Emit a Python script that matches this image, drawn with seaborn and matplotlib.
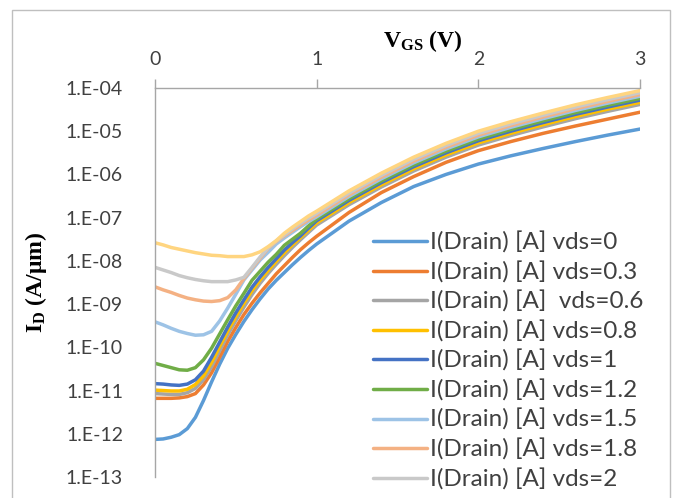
import numpy as np
import pandas as pd
import seaborn as sns
import matplotlib
matplotlib.use("Agg")
import matplotlib.pyplot as plt
from matplotlib import font_manager
from matplotlib.ticker import FixedLocator, FuncFormatter
from matplotlib.patches import Rectangle

# ---------------- data (log10 of drain current in A/um) -------------
vgs = [0.0, 0.05, 0.1, 0.15, 0.2, 0.25, 0.3, 0.35, 0.4, 0.45, 0.5,
       0.55, 0.6, 0.65, 0.7, 0.75, 0.8, 0.85, 0.9, 0.95, 1.0,
       1.2, 1.4, 1.6, 1.8, 2.0, 2.2, 2.4, 2.6, 2.8, 3.0]

series_labels = [
    "I(Drain) [A] vds=0",
    "I(Drain) [A] vds=0.3",
    "I(Drain) [A]  vds=0.6",
    "I(Drain) [A] vds=0.8",
    "I(Drain) [A] vds=1",
    "I(Drain) [A] vds=1.2",
    "I(Drain) [A] vds=1.5",
    "I(Drain) [A] vds=1.8",
    "I(Drain) [A] vds=2",
    "I(Drain) [A] vds=2.2",
]
n_legend_visible = 9  # the reference crops the legend after the 9th entry

log_id_vds_0_0 = [-12.13, -12.12, -12.08, -12.02, -11.88, -11.62, -11.23, -10.80, -10.39, -10.02, -9.70,
                  -9.40, -9.13, -8.88, -8.65, -8.45, -8.27, -8.09, -7.92, -7.76, -7.61,
                  -7.08, -6.65, -6.28, -6.00, -5.76, -5.57, -5.40, -5.24, -5.09, -4.95]
log_id_vds_0_3 = [-11.18, -11.18, -11.18, -11.17, -11.14, -11.07, -10.87, -10.59, -10.23, -9.86, -9.54,
                  -9.24, -8.98, -8.74, -8.52, -8.30, -8.11, -7.92, -7.74, -7.58, -7.43,
                  -6.88, -6.42, -6.05, -5.72, -5.45, -5.24, -5.05, -4.88, -4.72, -4.56]
log_id_vds_0_6 = [-11.07, -11.08, -11.09, -11.09, -11.05, -10.95, -10.75, -10.45, -10.08, -9.71, -9.38,
                  -9.07, -8.78, -8.52, -8.29, -8.08, -7.88, -7.69, -7.51, -7.34, -7.17,
                  -6.70, -6.29, -5.92, -5.60, -5.32, -5.10, -4.90, -4.71, -4.54, -4.38]
log_id_vds_0_8 = [-10.99, -11.00, -11.01, -11.01, -10.97, -10.86, -10.66, -10.35, -9.98, -9.62, -9.29,
                  -8.98, -8.69, -8.44, -8.22, -8.01, -7.81, -7.63, -7.46, -7.29, -7.12,
                  -6.65, -6.24, -5.87, -5.55, -5.27, -5.05, -4.85, -4.66, -4.49, -4.33]
log_id_vds_1_0 = [-10.84, -10.85, -10.87, -10.88, -10.85, -10.75, -10.55, -10.23, -9.88, -9.53, -9.20,
                  -8.90, -8.61, -8.37, -8.15, -7.95, -7.75, -7.58, -7.42, -7.24, -7.07,
                  -6.60, -6.19, -5.82, -5.50, -5.22, -5.00, -4.80, -4.61, -4.44, -4.28]
log_id_vds_1_2 = [-10.37, -10.42, -10.47, -10.52, -10.53, -10.47, -10.29, -10.02, -9.69, -9.36, -9.04,
                  -8.75, -8.45, -8.24, -8.03, -7.85, -7.64, -7.50, -7.36, -7.19, -7.03,
                  -6.56, -6.15, -5.78, -5.46, -5.18, -4.96, -4.76, -4.57, -4.40, -4.24]
log_id_vds_1_5 = [-9.41, -9.48, -9.56, -9.63, -9.68, -9.72, -9.71, -9.63, -9.39, -9.09, -8.77,
                  -8.44, -8.21, -7.98, -7.80, -7.61, -7.47, -7.34, -7.21, -7.09, -6.98,
                  -6.51, -6.10, -5.73, -5.41, -5.13, -4.91, -4.71, -4.52, -4.35, -4.19]
log_id_vds_1_8 = [-8.60, -8.67, -8.73, -8.80, -8.86, -8.90, -8.93, -8.94, -8.92, -8.85, -8.67,
                  -8.41, -8.17, -7.94, -7.71, -7.55, -7.42, -7.30, -7.17, -7.05, -6.94,
                  -6.47, -6.06, -5.69, -5.37, -5.09, -4.87, -4.67, -4.48, -4.31, -4.15]
log_id_vds_2_0 = [-8.15, -8.21, -8.27, -8.34, -8.39, -8.43, -8.46, -8.48, -8.48, -8.48, -8.44,
                  -8.38, -8.15, -7.91, -7.70, -7.54, -7.40, -7.26, -7.13, -7.01, -6.90,
                  -6.43, -6.02, -5.65, -5.33, -5.05, -4.83, -4.63, -4.44, -4.27, -4.11]
log_id_vds_2_2 = [-7.58, -7.63, -7.69, -7.73, -7.77, -7.81, -7.84, -7.87, -7.88, -7.90, -7.90,
                  -7.90, -7.86, -7.79, -7.67, -7.53, -7.36, -7.22, -7.09, -6.96, -6.85,
                  -6.38, -5.97, -5.60, -5.28, -5.00, -4.78, -4.58, -4.39, -4.22, -4.06]

series_logs = [log_id_vds_0_0, log_id_vds_0_3, log_id_vds_0_6, log_id_vds_0_8, log_id_vds_1_0,
               log_id_vds_1_2, log_id_vds_1_5, log_id_vds_1_8, log_id_vds_2_0, log_id_vds_2_2]

colors = ["#5B9BD5", "#ED7D31", "#A5A5A5", "#FFC000", "#4472C4",
          "#70AD47", "#9DC3E6", "#F4B183", "#C9C9C9", "#FFD580"]

y_tick_values = [1e-13, 1e-12, 1e-11, 1e-10, 1e-9, 1e-8, 1e-7, 1e-6, 1e-5, 1e-4]
x_tick_values = [0, 1, 2, 3]

# ---------------- style ----------------
sns.set_theme(style="white")
avail = {f.name for f in font_manager.fontManager.ttflist}
sans = "Lato" if "Lato" in avail else "DejaVu Sans"
serif = "Liberation Serif" if "Liberation Serif" in avail else "DejaVu Serif"
plt.rcParams["font.family"] = [sans, "DejaVu Sans"]
plt.rcParams["mathtext.fontset"] = "custom"
plt.rcParams["mathtext.rm"] = serif + ":bold"
plt.rcParams["mathtext.it"] = serif + ":bold"
plt.rcParams["mathtext.bf"] = serif + ":bold"

rows = []
for lab, logs in zip(series_labels, series_logs):
    for v, l in zip(vgs, logs):
        rows.append({"vgs": v, "id": 10.0 ** l, "series": lab})
df = pd.DataFrame(rows)

W, H = 678, 498
fig = plt.figure(figsize=(W / 100, H / 100), dpi=100)
fig.patch.set_facecolor("white")

# outer chart-area border (cropped at the bottom like the reference)
fig.patches.append(Rectangle((12 / W, -0.2), (670 - 12) / W, 1 - 10 / H + 0.2,
                             transform=fig.transFigure, fill=False,
                             ec="#BFBFBF", lw=1.0))

ax = fig.add_axes([155 / W, 1 - 477 / H, (640 - 155) / W, (477 - 88) / H])
ax.set_yscale("log")
sns.lineplot(data=df, x="vgs", y="id", hue="series", hue_order=series_labels,
             palette=colors, linewidth=2.5, estimator=None, sort=False, ax=ax)

ax.set_xlim(0, 3)
ax.set_ylim(1e-13, 1e-4)

ax.xaxis.tick_top()
ax.xaxis.set_major_locator(FixedLocator(x_tick_values))
ax.xaxis.set_major_formatter(FuncFormatter(lambda v, p: f"{int(v)}"))
ax.yaxis.set_major_locator(FixedLocator(y_tick_values))
ax.yaxis.set_minor_locator(FixedLocator([]))
ax.yaxis.set_major_formatter(FuncFormatter(lambda v, p: f"1.E{int(round(np.log10(v))):03d}"))

tick_color = "#404040"
ax.tick_params(axis="x", which="major", direction="out", length=6.5, width=1.0,
               color="#A6A6A6", labelsize=14, labelcolor=tick_color, pad=8,
               top=True, bottom=False, labeltop=True, labelbottom=False)
ax.tick_params(axis="y", which="both", length=0, labelsize=14,
               labelcolor=tick_color, pad=23, left=True)
ax.set_xlabel("")
ax.set_ylabel("")

for side in ["right", "bottom"]:
    ax.spines[side].set_visible(False)
for side in ["top", "left"]:
    ax.spines[side].set_visible(True)
    ax.spines[side].set_color("#A6A6A6")
    ax.spines[side].set_linewidth(1.0)
ax.grid(False)

# axis titles
fig.text(423 / W, 1 - 46.7 / H, r"$\mathrm{V_{GS}}$ (V)", ha="center", va="baseline",
         family=serif, weight="bold", size=17, color="black")
fig.text(36 / W, 1 - 282.5 / H, r"$\mathrm{I_D}$ (A/μm)", ha="center", va="center",
         rotation=90, family=serif, weight="bold", size=17, color="black")

# legend (only the entries visible in the cropped reference)
handles, labels = ax.get_legend_handles_labels()
ax.get_legend().remove()
leg = fig.legend(handles[:n_legend_visible], labels[:n_legend_visible], loc="upper left",
                 bbox_to_anchor=(373 / W, 1 - 231.5 / H),
                 bbox_transform=fig.transFigure, frameon=False, fontsize=17.5,
                 handlelength=2.22, handletextpad=0.12, labelspacing=0.31,
                 borderpad=0, borderaxespad=0)
for t in leg.get_texts():
    t.set_color(tick_color)
for l in leg.get_lines():
    l.set_linewidth(2.5)

fig.savefig("out.png", dpi=100)
